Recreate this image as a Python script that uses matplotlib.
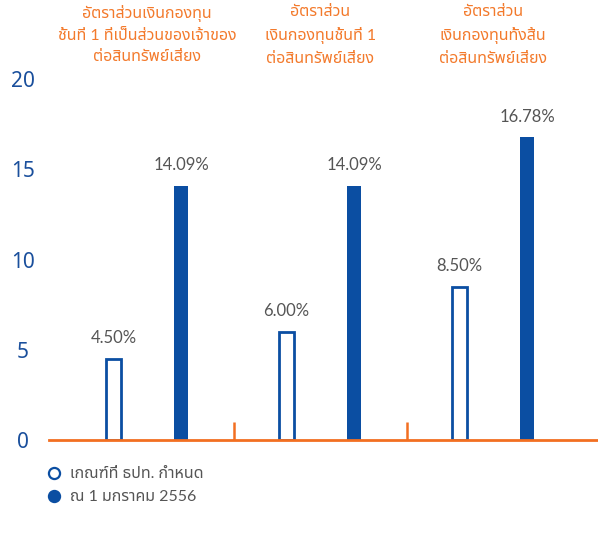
import matplotlib
matplotlib.use('Agg')
import matplotlib.pyplot as plt
from matplotlib.lines import Line2D
from matplotlib.transforms import blended_transform_factory

# Capital ratios (%)
titles = ['อัตราส่วนเงินกองทุน\nชั้นที่ 1 ที่เป็นส่วนของเจ้าของ\nต่อสินทรัพย์เสี่ยง',
          'อัตราส่วน\nเงินกองทุนชั้นที่ 1\nต่อสินทรัพย์เสี่ยง',
          'อัตราส่วน\nเงินกองทุนทั้งสิ้น\nต่อสินทรัพย์เสี่ยง']
required = [4.50, 6.00, 8.50]      # เกณฑ์ที่ ธปท. กำหนด
actual = [14.09, 14.09, 16.78]     # ณ 1 มกราคม 2556
legend_labels = ['เกณฑ์ที่ ธปท. กำหนด', 'ณ 1 มกราคม 2556']
yticks = [0, 5, 10, 15, 20]

blue = '#0b4ea2'
orange = '#f26f21'
grey = '#555555'
fonts = ['Lato', 'Noto Sans Thai', 'DejaVu Sans']

fig = plt.figure(figsize=(5.98, 5.41), dpi=100)
ax = fig.add_axes([49 / 598, 101 / 541, 549 / 598, 361 / 541])

step = 2.563
bw = 0.22
x_req = [g * step for g in range(3)]
x_act = [g * step + 1 for g in range(3)]

ax.bar(x_req, required, width=bw, color='white', edgecolor=blue, linewidth=2, zorder=2)
ax.bar(x_act, actual, width=bw, color=blue, zorder=2)

for xs, vals in [(x_req, required), (x_act, actual)]:
    for x, v in zip(xs, vals):
        ax.annotate(f'{v:.2f}%', (x, v), xytext=(0, 9), textcoords='offset points',
                    ha='center', va='bottom', fontsize=12, color=grey, family=fonts)

# small separators between groups
for g in range(2):
    xs = g * step + 1 + (step - 1) / 2
    ax.plot([xs, xs], [0, 1.0], color=orange, lw=1.8, zorder=3, solid_capstyle='butt')

# group titles
tr = blended_transform_factory(ax.transData, fig.transFigure)
for g, t in enumerate(titles):
    ax.text(g * step + 0.5, 1 - 5 / 541, t, transform=tr, ha='center', va='top',
            fontsize=11.5, color='#f37a2c', family=fonts, linespacing=1.65)

ax.set_xlim(-0.956, 7.178)
ax.set_ylim(0, 20)
ax.set_xticks([])
ax.set_yticks(yticks)
ax.set_yticklabels([str(v) for v in yticks], family=['Noto Sans', 'DejaVu Sans'],
                   fontsize=15, color='#1a4f9c', ha='center')
ax.tick_params(axis='y', length=0, pad=19)
for s in ['top', 'right', 'left']:
    ax.spines[s].set_visible(False)
ax.spines['bottom'].set_color(orange)
ax.spines['bottom'].set_linewidth(2)
ax.spines['bottom'].set_zorder(4)

handles = [Line2D([], [], ls='none', marker='o', ms=8, mfc='white', mec=blue, mew=1.6),
           Line2D([], [], ls='none', marker='o', ms=8, mfc=blue, mec=blue, mew=1.6)]
fig.legend(handles, legend_labels, loc='upper left', bbox_to_anchor=(48 / 598, 1 - 467 / 541),
           frameon=False, handlelength=0.8, handletextpad=0.6, labelspacing=0.55,
           borderpad=0, borderaxespad=0, prop={'family': fonts, 'size': 11.5}, labelcolor=grey)

fig.savefig('out.png', dpi=100)
